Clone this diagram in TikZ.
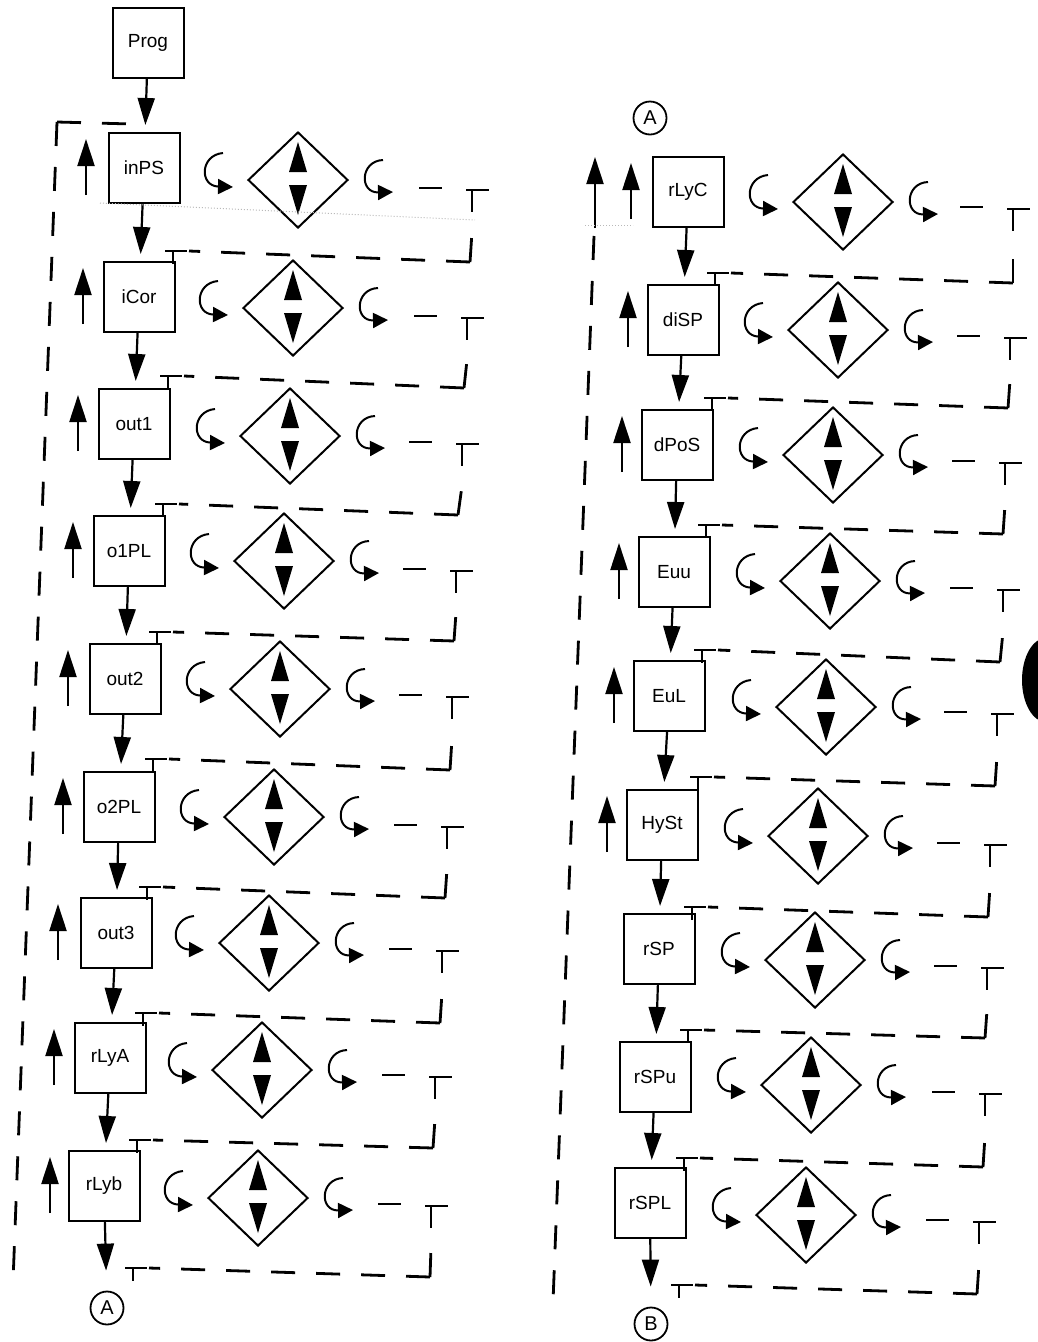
\documentclass[tikz,border=0pt]{standalone}
\usepackage{fontspec}
\newfontfamily\lbl{Liberation Sans}
\usetikzlibrary{shapes.geometric,arrows.meta}
\begin{document}
\begin{tikzpicture}[x=1pt,y=-1pt,
  box/.style={draw,line width=2pt,minimum width=71pt,minimum height=70pt,inner sep=0pt,font=\lbl\fontsize{19}{22}\selectfont},
  dia/.style={draw,diamond,line width=2pt,minimum width=100pt,minimum height=96pt,inner sep=0pt},
  circ/.style={draw,circle,line width=1.8pt,minimum size=33pt,inner sep=0pt,font=\lbl\fontsize{20}{22}\selectfont},
  arr/.style={line width=2.2pt,-{Triangle[length=27pt,width=17pt]}},
  flow/.style={arr,shorten >=7pt},
  carr/.style={line width=2pt,-{Triangle[length=15pt,width=15pt]}},
  dsh/.style={line width=2.8pt,dash pattern=on 24pt off 21pt},
  tmk/.style={line width=2.4pt},
  faint/.style={gray!55,line width=1pt,dotted}
]
\useasboundingbox (0,0) rectangle (1038,1342);

% start box and connector labels
\node[box] (Prog) at (148,43) {Prog};
\node[circ] (Atop) at (650,118) {A};
\node[circ] (Abot) at (107,1308) {A};
\node[circ] (Bbot) at (651,1324) {B};

% rows: name/label/box x/box y/diamond x/diamond y/up-arrow x/right T x/right T y/corner x/corner y/left T x/left T y
\foreach \Nm/\Lb/\Bx/\By/\Dx/\Dy/\Ux/\Tx/\Ty/\Cx/\Cy/\Lx/\Ly in {
  inPS/inPS/144/168/298/180/86/472/190/470/262/173/251,
  iCor/iCor/139/297/293/308/83/467/318/464/388/168/376,
  out1/out1/134/424/290/436/78/462/444/458/515/163/504,
  o1PL/o1PL/129/551/284/561/73/456/571/454/641/157/632,
  out2/out2/125/679/280/689/68/452/697/450/770/153/759,
  o2PL/o2PL/119/807/274/817/63/447/827/445/898/147/887,
  out3/out3/116/933/269/943/58/442/951/440/1023/143/1013,
  rLyA/rLyA/110/1058/262/1070/54/435/1077/433/1148/137/1140,
  rLyb/rLyb/104/1186/258/1198/50/431/1206/430/1277/133/1268,
  rLyC/rLyC/688/192/843/202/631/1013/209/1013/283/715/273,
  diSP/diSP/683/320/838/330/628/1010/338/1008/408/712/398,
  dPoS/dPoS/677/445/833/455/622/1005/463/1003/534/706/525,
  Euu/Euu/674/572/830/581/619/1003/590/1000/662/702/650,
  EuL/EuL/669/696/826/707/614/997/714/995/786/698/777,
  HySt/HySt/662/825/818/836/607/990/845/988/917/692/907,
  rSP/rSP/659/949/815/960/0/987/968/985/1038/688/1030,
  rSPu/rSPu/655/1077/811/1085/0/985/1094/983/1167/684/1158,
  rSPL/rSPL/650/1203/806/1215/0/979/1222/977/1294/679/1285}
{
  \node[box] (\Nm) at (\Bx,\By) {\Lb};
  \node[dia] (d\Nm) at (\Dx,\Dy) {};
  \fill (\Dx,\Dy-38) -- (\Dx-9,\Dy-8) -- (\Dx+9,\Dy-8) -- cycle;
  \fill (\Dx-9,\Dy+5) -- (\Dx+9,\Dy+5) -- (\Dx,\Dy+35) -- cycle;
  \ifnum\Ux>0 \draw[arr] (\Ux,\By+27) -- (\Ux,\By-29); \fi
  \draw[carr] (\Dx-75,\Dy-27) .. controls (\Dx-98,\Dy-25) and (\Dx-99,\Dy+6) .. (\Dx-65,\Dy+7);
  \draw[carr] (\Dx+85,\Dy-20) .. controls (\Dx+62,\Dy-19) and (\Dx+61,\Dy+13) .. (\Dx+95,\Dy+12);
  \draw[tmk] (\Tx-53,\Ty-2) -- (\Tx-30,\Ty-2);
  \draw[tmk] (\Tx-6,\Ty) -- (\Tx+17,\Ty) (\Tx,\Ty) -- (\Tx,\Ty+22);
  \draw[dsh] (\Cx,\Cy) -- (\Tx,\Ty+42);
  \draw[dsh] (\Cx,\Cy) -- (\Lx+16,\Ly);
  \draw[tmk] (\Lx-8,\Ly) -- (\Lx+14,\Ly) (\Lx,\Ly) -- (\Lx,\Ly+13);
}

% main flow, left column
\draw[flow] (Prog) -- (inPS);
\draw[flow] (inPS) -- (iCor);
\draw[flow] (iCor) -- (out1);
\draw[flow] (out1) -- (o1PL);
\draw[flow] (o1PL) -- (out2);
\draw[flow] (out2) -- (o2PL);
\draw[flow] (o2PL) -- (out3);
\draw[flow] (out3) -- (rLyA);
\draw[flow] (rLyA) -- (rLyb);
\draw[arr,shorten >=20pt] (rLyb) -- (Abot);

% main flow, right column
\draw[flow] (rLyC) -- (diSP);
\draw[flow] (diSP) -- (dPoS);
\draw[flow] (dPoS) -- (Euu);
\draw[flow] (Euu) -- (EuL);
\draw[flow] (EuL) -- (HySt);
\draw[flow] (HySt) -- (rSP);
\draw[flow] (rSP) -- (rSPu);
\draw[flow] (rSPu) -- (rSPL);
\draw[arr,shorten >=20pt] (rSPL) -- (Bbot);

% outer return lines
\draw[dsh] (57,122) -- (132,124);
\draw[dsh] (57,122) -- (13,1282);
\draw[dsh] (594,236) -- (553,1302);
\draw[arr] (595,228) -- (595,157);

% faint dotted lines
\draw[faint] (100,203) -- (475,220);
\draw[faint] (585,225) -- (633,225);

% edge mark
\begin{scope}
\clip (0,0) rectangle (1038,1342);
\fill (1046,680) ellipse [x radius=24, y radius=42];
\end{scope}
\end{tikzpicture}
\end{document}
